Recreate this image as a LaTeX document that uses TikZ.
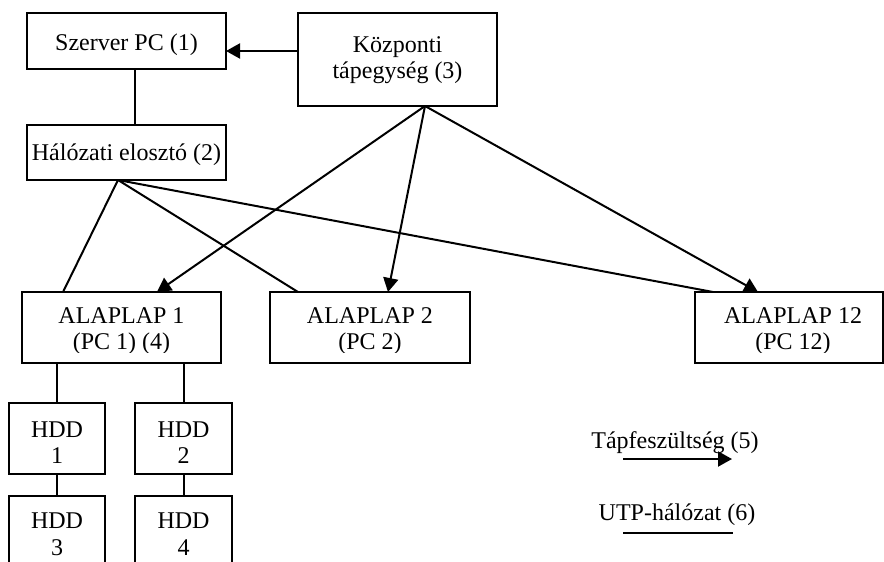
\documentclass[tikz,border=0pt]{standalone}
\usepackage{fontspec}
\setmainfont{Liberation Serif}
\usetikzlibrary{arrows.meta}
\begin{document}
\begin{tikzpicture}[x=0.75pt,y=-0.75pt]
\tikzset{
  box/.style={draw,line width=1.5pt,inner sep=0pt,outer sep=0pt},
  txt/.style={anchor=base,inner sep=0pt,outer sep=0pt,font=\fontsize{18}{20.25}\selectfont},
  wire/.style={line width=1.5pt},
  pw/.style={line width=1.5pt,-{Triangle[length=10.5pt,width=11.25pt]}},
}
\useasboundingbox (0,0) rectangle (884,561);

% boxes
\node[box,minimum width=149.25pt,minimum height=42pt] (szerver) at (126.5,41) {};
\node[box,minimum width=149.25pt,minimum height=69.75pt] (kozp) at (397.5,59.5) {};
\node[box,minimum width=149.25pt,minimum height=41.25pt] (halo) at (126.5,152.5) {};
\node[box,minimum width=149.25pt,minimum height=53.25pt] (alap1) at (121.5,327.5) {};
\node[box,minimum width=150pt,minimum height=53.25pt] (alap2) at (370,327.5) {};
\node[box,minimum width=141pt,minimum height=53.25pt] (alap12) at (789,327.5) {};
\node[box,minimum width=72pt,minimum height=53.25pt] (hdd1) at (57,438.5) {};
\node[box,minimum width=72.75pt,minimum height=53.25pt] (hdd2) at (183.5,438.5) {};
\node[box,minimum width=72pt,minimum height=59.25pt] (hdd3) at (57,535.5) {};
\node[box,minimum width=72.75pt,minimum height=59.25pt] (hdd4) at (183.5,535.5) {};

% texts
\node[txt] (szerver-t) at (126.5,50) {Szerver PC (1)};
\node[txt] (kozp-t1) at (397.5,52) {Központi};
\node[txt] (kozp-t2) at (397.5,78.5) {tápegység (3)};
\node[txt] (halo-t) at (126.5,160) {Hálózati elosztó (2)};
\begin{scope}
  \clip (0,292) rectangle (884,352);
  \node[txt] (alap1-t1) at (121.5,323.5) {ALAPLAP 1};
  \node[txt] (alap1-t2) at (121.5,349.5) {(PC 1) (4)};
  \node[txt] (alap2-t1) at (370,323.5) {ALAPLAP 2};
  \node[txt] (alap2-t2) at (370,349.5) {(PC 2)};
  \node[txt] (alap12-t1) at (793,323.5) {ALAPLAP 12};
  \node[txt] (alap12-t2) at (793,349.5) {(PC 12)};
\end{scope}
\node[txt] (hdd1-t1) at (57,437) {HDD};
\node[txt] (hdd1-t2) at (57,463.5) {1};
\node[txt] (hdd2-t1) at (183.5,437) {HDD};
\node[txt] (hdd2-t2) at (183.5,463.5) {2};
\node[txt] (hdd3-t1) at (57,528) {HDD};
\node[txt] (hdd3-t2) at (57,555.5) {3};
\node[txt] (hdd4-t1) at (183.5,528) {HDD};
\node[txt] (hdd4-t2) at (183.5,555.5) {4};

% power connectors
\draw[pw] ([yshift=6.375pt]kozp.west) -- ([yshift=-7.5pt]szerver.east);
\coordinate (kapex) at ([xshift=20.625pt]kozp.south);
\draw[pw] (kapex) -- ([xshift=26.6pt]alap1.north);
\draw[pw] (kapex) -- ([xshift=13.5pt]alap2.north);
\draw[pw] (kapex) -- ([xshift=-23.25pt]alap12.north);

% network connectors
\draw[wire] ([xshift=6.375pt]szerver.south) -- ([xshift=6.375pt]halo.north);
\coordinate (hapex) at ([xshift=-6.375pt]halo.south);
\draw[wire] (hapex) -- ([xshift=-43.875pt]alap1.north);
\draw[wire] (hapex) -- ([xshift=-54pt]alap2.north);
\draw[wire] (hapex) -- ([xshift=-57pt]alap12.north);

% disks
\draw[wire] (hdd1.north) -- (hdd1.north |- alap1.south);
\draw[wire] (hdd2.north) -- (hdd2.north |- alap1.south);
\draw[wire] (hdd1.south) -- (hdd3.north);
\draw[wire] (hdd2.south) -- (hdd4.north);

% legend
\node[txt] (leg1) at (675,448) {Tápfeszültség (5)};
\coordinate (leg1a) at (623,459);
\coordinate (leg1b) at (732,459);
\draw[pw] (leg1a) -- (leg1b);
\node[txt] (leg2) at (677,520) {UTP-hálózat (6)};
\coordinate (leg2a) at (623,533);
\coordinate (leg2b) at (733,533);
\draw[wire] (leg2a) -- (leg2b);
\end{tikzpicture}
\end{document}
